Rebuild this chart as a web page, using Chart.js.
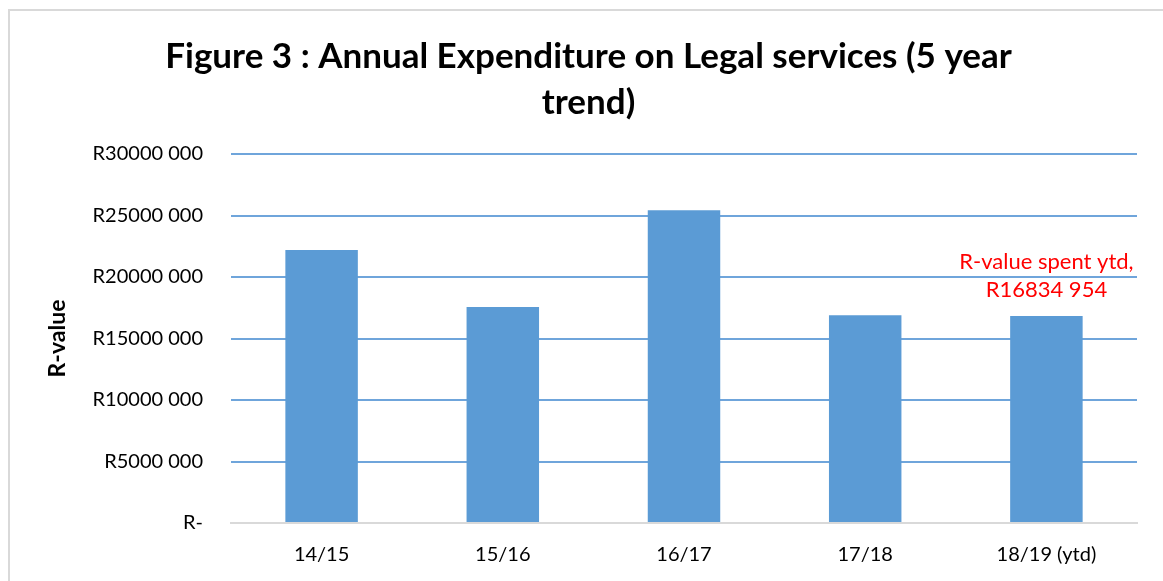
<!DOCTYPE html>
<html><head><meta charset="utf-8">
<script src="https://cdn.jsdelivr.net/npm/chart.js@4"></script>
<style>
html,body{margin:0;padding:0;background:#fff;overflow:hidden}
#wrap{position:absolute;left:0;top:0;width:1163px;height:581px}
#frame{position:absolute;left:8px;top:9px;width:1200px;height:600px;border-left:2px solid #d9d9d9;border-top:2px solid #d9d9d9;pointer-events:none}
</style></head>
<body>
<div id="wrap"><canvas id="c" width="1163" height="581"></canvas></div>
<div id="frame"></div>
<script>
const categories = ["14/15","15/16","16/17","17/18","18/19 (ytd)"];
const values = [22200000, 17560000, 25420000, 16900000, 16834954];
const titleLines = ["Figure 3 : Annual Expenditure on Legal services (5 year","trend)"];
const yTickLabels = {0:"R-",5000000:"R5000 000",10000000:"R10000 000",15000000:"R15000 000",20000000:"R20000 000",25000000:"R25000 000",30000000:"R30000 000"};
const annotationLines = ["R-value spent ytd,","R16834 954"];

const FONT = "Lato, 'Liberation Sans', sans-serif";

const annot = {
  id:'annot',
  afterDatasetsDraw(chart){
    const meta = chart.getDatasetMeta(0);
    const el = meta.data[values.length-1];
    const ctx = chart.ctx;
    ctx.save();
    ctx.fillStyle = '#ff0000';
    ctx.font = "22px " + FONT;
    ctx.textAlign = 'center';
    ctx.textBaseline = 'middle';
    ctx.fillText(annotationLines[0], el.x, el.y - 54);
    ctx.fillText(annotationLines[1], el.x, el.y - 26);
    ctx.restore();
  }
};

new Chart(document.getElementById('c'), {
  type:'bar',
  data:{labels:categories, datasets:[{data:values, backgroundColor:'#5b9bd5', borderWidth:0, barPercentage:0.4, categoryPercentage:1.0}]},
  options:{
    responsive:false, animation:false,
    layout:{padding:{left:40,right:26,top:10,bottom:0}},
    plugins:{
      legend:{display:false},
      tooltip:{enabled:false},
      title:{display:true, text:titleLines, color:'#000', font:{family:FONT, size:35, weight:'bold', lineHeight:1.3}, padding:{top:24,bottom:29}}
    },
    scales:{
      x:{
        afterFit(s){ s.height = 58; },
        grid:{display:false, drawTicks:false},
        border:{display:true, color:'#d9d9d9', width:2},
        ticks:{color:'#000', font:{family:FONT, size:20}, padding:20}
      },
      y:{
        min:0, max:30000000,
        afterFit(s){ s.width = 191; },
        ticks:{stepSize:5000000, color:'#000', font:{family:FONT, size:20}, padding:28,
          callback:(v)=>yTickLabels[v] ?? ''},
        grid:{color:'#6fa5db', lineWidth:2, drawTicks:false},
        border:{display:false},
        title:{display:true, text:'R-value', color:'#000', font:{family:FONT, size:23, weight:'bold'}, padding:{top:4,bottom:0}}
      }
    }
  },
  plugins:[annot]
});
</script>
</body></html>
